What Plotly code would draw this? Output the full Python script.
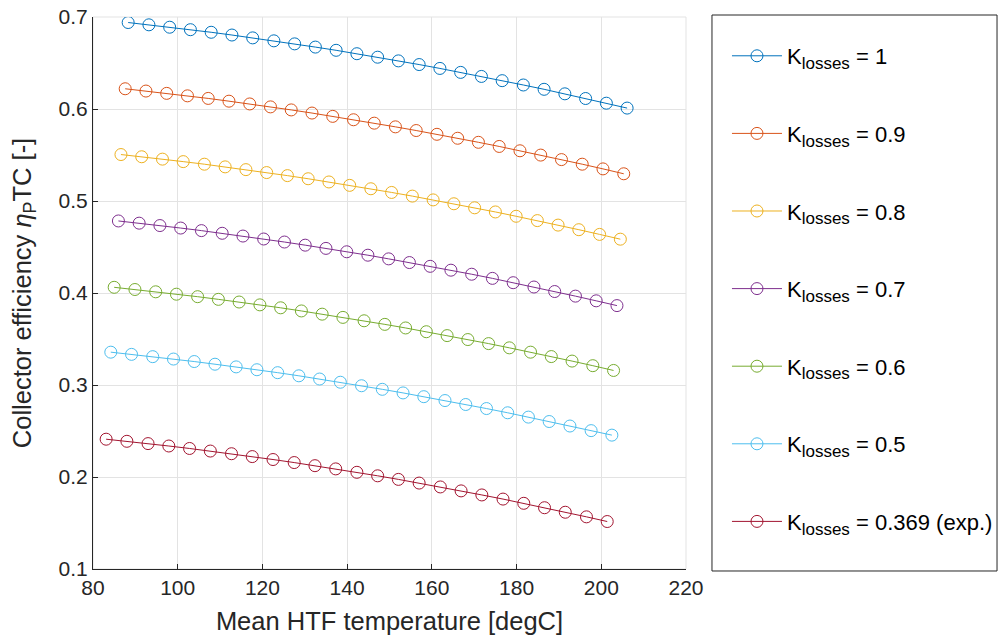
import plotly.graph_objects as go

# ---- data ----
k_labels = ["1", "0.9", "0.8", "0.7", "0.6", "0.5", "0.369 (exp.)"]

x_k100 = [88.3, 93.2, 98.1, 103.0, 107.9, 112.8, 117.7, 122.7, 127.6, 132.5, 137.4, 142.3, 147.2,
          152.1, 157.0, 161.9, 166.8, 171.7, 176.6, 181.6, 186.5, 191.4, 196.3, 201.2, 206.1]
y_k100 = [0.6940, 0.6915, 0.6889, 0.6862, 0.6834, 0.6804, 0.6773, 0.6741, 0.6708, 0.6673, 0.6638,
          0.6601, 0.6563, 0.6523, 0.6483, 0.6441, 0.6398, 0.6354, 0.6308, 0.6261, 0.6214, 0.6165,
          0.6114, 0.6063, 0.6010]

x_k090 = [87.6, 92.5, 97.4, 102.3, 107.2, 112.1, 117.0, 121.9, 126.8, 131.7, 136.6, 141.5, 146.4,
          151.4, 156.3, 161.2, 166.1, 171.0, 175.9, 180.8, 185.7, 190.6, 195.5, 200.4, 205.3]
y_k090 = [0.6220, 0.6195, 0.6170, 0.6143, 0.6115, 0.6085, 0.6055, 0.6023, 0.5990, 0.5956, 0.5920,
          0.5883, 0.5846, 0.5806, 0.5766, 0.5725, 0.5682, 0.5638, 0.5593, 0.5546, 0.5499, 0.5450,
          0.5400, 0.5349, 0.5296]

x_k080 = [86.6, 91.5, 96.4, 101.3, 106.3, 111.2, 116.1, 121.0, 125.9, 130.8, 135.7, 140.6, 145.6,
          150.5, 155.4, 160.3, 165.2, 170.1, 175.0, 179.9, 184.9, 189.8, 194.7, 199.6, 204.5]
y_k080 = [0.5505, 0.5481, 0.5455, 0.5428, 0.5400, 0.5371, 0.5341, 0.5309, 0.5276, 0.5242, 0.5207,
          0.5170, 0.5133, 0.5093, 0.5053, 0.5012, 0.4970, 0.4926, 0.4881, 0.4834, 0.4787, 0.4738,
          0.4688, 0.4637, 0.4585]

x_k070 = [86.0, 90.9, 95.8, 100.7, 105.6, 110.5, 115.4, 120.3, 125.2, 130.1, 135.0, 139.9, 144.9,
          149.8, 154.7, 159.6, 164.5, 169.4, 174.3, 179.2, 184.1, 189.0, 193.9, 198.8, 203.7]
y_k070 = [0.4783, 0.4759, 0.4733, 0.4706, 0.4678, 0.4649, 0.4619, 0.4587, 0.4554, 0.4520, 0.4485,
          0.4448, 0.4411, 0.4371, 0.4331, 0.4290, 0.4248, 0.4204, 0.4159, 0.4112, 0.4065, 0.4016,
          0.3966, 0.3915, 0.3863]

x_k060 = [85.0, 89.9, 94.8, 99.7, 104.7, 109.6, 114.5, 119.4, 124.3, 129.2, 134.1, 139.0, 144.0,
          148.9, 153.8, 158.7, 163.6, 168.5, 173.4, 178.3, 183.3, 188.2, 193.1, 198.0, 202.9]
y_k060 = [0.4062, 0.4038, 0.4013, 0.3987, 0.3960, 0.3931, 0.3902, 0.3871, 0.3839, 0.3805, 0.3770,
          0.3735, 0.3698, 0.3659, 0.3620, 0.3579, 0.3537, 0.3494, 0.3450, 0.3404, 0.3357, 0.3309,
          0.3260, 0.3210, 0.3158]

x_k050 = [84.2, 89.1, 94.1, 99.0, 103.9, 108.8, 113.8, 118.7, 123.6, 128.6, 133.5, 138.4, 143.4,
          148.3, 153.2, 158.1, 163.1, 168.0, 172.9, 177.9, 182.8, 187.7, 192.6, 197.6, 202.5]
y_k050 = [0.3357, 0.3333, 0.3308, 0.3282, 0.3255, 0.3226, 0.3197, 0.3166, 0.3134, 0.3100, 0.3065,
          0.3030, 0.2992, 0.2953, 0.2914, 0.2873, 0.2831, 0.2788, 0.2744, 0.2698, 0.2651, 0.2603,
          0.2554, 0.2504, 0.2455]

x_k0369 = [83.1, 88.0, 93.0, 97.9, 102.8, 107.7, 112.7, 117.6, 122.5, 127.5, 132.4, 137.3, 142.3,
           147.2, 152.1, 157.0, 162.0, 166.9, 171.8, 176.8, 181.7, 186.6, 191.5, 196.5, 201.4]
y_k0369 = [0.2411, 0.2388, 0.2363, 0.2337, 0.2310, 0.2282, 0.2253, 0.2222, 0.2190, 0.2157, 0.2123,
           0.2088, 0.2051, 0.2013, 0.1974, 0.1934, 0.1892, 0.1849, 0.1805, 0.1760, 0.1714, 0.1666,
           0.1617, 0.1567, 0.1516]

xs = [x_k100, x_k090, x_k080, x_k070, x_k060, x_k050, x_k0369]
ys = [y_k100, y_k090, y_k080, y_k070, y_k060, y_k050, y_k0369]
colors = ["#0072BD", "#D95319", "#EDB120", "#7E2F8E", "#77AC30", "#4DBEEE", "#A2142F"]

x_ticks = [80, 100, 120, 140, 160, 180, 200, 220]
y_ticks = [0.1, 0.2, 0.3, 0.4, 0.5, 0.6, 0.7]

FONT = "Liberation Sans, Arial, sans-serif"
AX = "#262626"
GRID = "#e3e3e3"

fig = go.Figure()
for i, (x, y, c, k) in enumerate(zip(xs, ys, colors, k_labels)):
    name = f"K<sub><span style='font-size:17px'>losses</span></sub> = {k}"
    fig.add_trace(go.Scatter(
        x=x, y=y, mode="lines+markers", name=name, legendgroup=f"g{i}",
        line=dict(color=c, width=1),
        marker=dict(symbol="circle-open", size=12, color=c, line=dict(width=1, color=c)),
    ))

# page body has an 8px margin: figure is 990x627 (fits the window without scrolling);
# margins place the plot area at page x 93..686, y 17..569
fig.update_layout(
    width=990, height=627,
    margin=dict(l=85, r=312, t=9, b=66, autoexpand=False),
    paper_bgcolor="white", plot_bgcolor="white",
    font=dict(family=FONT, size=21, color=AX),
    showlegend=True,
    legend=dict(
        x=1.0691, y=0.9674, xanchor="left", yanchor="top",
        borderwidth=0, bgcolor="rgba(0,0,0,0)",
        font=dict(family=FONT, size=22, color="#000000"),
        tracegroupgap=46, itemwidth=50, valign="middle",
        maxheight=2000,
    ),
)
fig.update_xaxes(
    range=[80, 220], tickvals=x_ticks, ticktext=[str(v) for v in x_ticks],
    showgrid=True, gridcolor=GRID, gridwidth=1, automargin=False,
    showline=True, linecolor=AX, linewidth=1, mirror=False,
    ticks="inside", ticklen=5, tickcolor=AX, zeroline=False,
    tickfont=dict(size=21, color=AX), ticklabeloverflow="allow",
    title=dict(text="Mean HTF temperature [degC]", font=dict(size=25.5, color=AX), standoff=20),
)
fig.update_yaxes(
    range=[0.1, 0.7], tickvals=y_ticks, ticktext=[f"{v:.1f}" for v in y_ticks],
    showgrid=True, gridcolor=GRID, gridwidth=1, automargin=False,
    showline=True, linecolor=AX, linewidth=1, mirror=False,
    ticks="inside", ticklen=5, tickcolor=AX, zeroline=False,
    tickfont=dict(size=21, color=AX), ticklabeloverflow="allow",
    title=dict(text="Collector efficiency <i>η</i><sub>P</sub>TC [-]", font=dict(size=25.5, color=AX), standoff=20),
)
# light top/right frame like the MATLAB grid box
fig.add_shape(type="rect", xref="paper", yref="paper", x0=0, y0=0, x1=1, y1=1,
              line=dict(color=GRID, width=1), layer="below")
# legend box (MATLAB legend frame)
fig.add_shape(type="rect", xref="paper", yref="paper", x0=1.0438, x1=1.5245, y0=-0.0036, y1=1.0036,
              line=dict(color=AX, width=1), fillcolor="rgba(0,0,0,0)", layer="above")

fig.write_html("out.html")
